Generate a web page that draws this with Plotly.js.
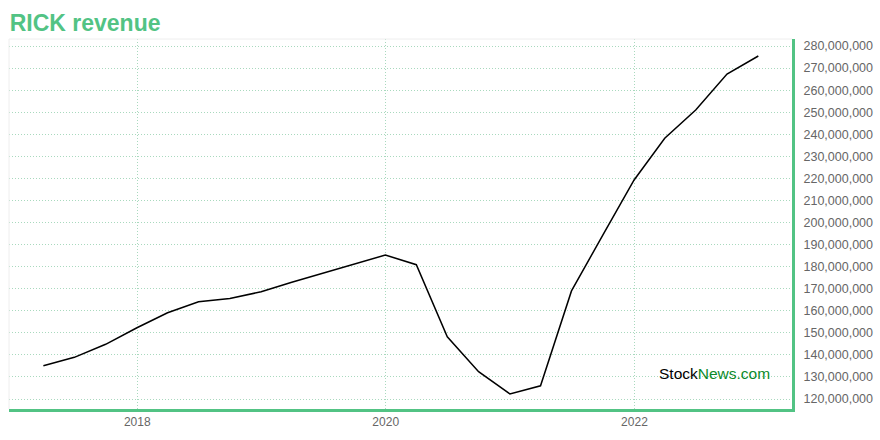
<!DOCTYPE html>
<html>
<head>
<meta charset="utf-8">
<script src="https://cdn.plot.ly/plotly-3.0.1.min.js"></script>
<style>html,body{margin:0;padding:0;background:#fff;}#chart{width:880px;height:440px;}</style>
</head>
<body>
<div id="chart"></div>
<script>
var dates = ["2017-03-31","2017-06-30","2017-09-30","2017-12-31","2018-03-31","2018-06-30","2018-09-30","2018-12-31",
             "2019-03-31","2019-06-30","2019-09-30","2019-12-31","2020-03-31","2020-06-30","2020-09-30","2020-12-31",
             "2021-03-31","2021-06-30","2021-09-30","2021-12-31","2022-03-31","2022-06-30","2022-09-30","2022-12-31"];
var revenue = [135.1e6,138.9e6,144.8e6,152.3e6,159.1e6,164.1e6,165.6e6,168.6e6,
               172.9e6,177.0e6,180.9e6,185.3e6,180.9e6,148.2e6,132.4e6,122.3e6,
               126.0e6,169.0e6,194.3e6,219.3e6,238.2e6,251.0e6,267.3e6,275.5e6];
var yTicks = [120e6,130e6,140e6,150e6,160e6,170e6,180e6,190e6,200e6,210e6,220e6,230e6,240e6,250e6,260e6,270e6,280e6];
var xTicks = ["2018-01-01","2020-01-01","2022-01-01"];
var xTickLabels = ["2018","2020","2022"];

var green = "#52c384";
var gridColor = "#a9d9be";

Plotly.newPlot("chart", [{
  x: dates, y: revenue, type: "scatter", mode: "lines",
  line: {color: "#000", width: 1.5}, hoverinfo: "skip"
}], {
  width: 880, height: 440,
  margin: {l: 9, r: 88, t: 39, b: 31},
  paper_bgcolor: "#fff", plot_bgcolor: "#fff",
  showlegend: false,
  font: {family: "Liberation Sans, Arial, sans-serif", color: "#666", size: 12},
  title: {text: "<b>RICK revenue</b>", x: 0.011, xanchor: "left", y: 0.93, yanchor: "bottom",
          font: {size: 23, color: green, family: "Liberation Sans, Arial, sans-serif"}},
  xaxis: {
    type: "date", range: ["2016-12-20", "2023-04-09"],
    tickvals: xTicks, ticktext: xTickLabels, ticks: "",
    showgrid: true, gridcolor: gridColor, griddash: "1px,2px", gridwidth: 1,
    showline: true, linecolor: green, linewidth: 3, zeroline: false,
    tickfont: {size: 12, color: "#666"}
  },
  yaxis: {
    side: "right", range: [115.47e6, 283.2e6],
    tickvals: yTicks, tickformat: ",d", ticks: "outside", ticklen: 6, tickcolor: "rgba(0,0,0,0)",
    showgrid: true, gridcolor: gridColor, griddash: "1px,2px", gridwidth: 1,
    showline: true, linecolor: green, linewidth: 3, zeroline: false,
    tickfont: {size: 12.5, color: "#666"}
  },
  shapes: [
    {type: "line", xref: "paper", yref: "paper", x0: 0, x1: 1, y0: 1, y1: 1, line: {color: "#eeeeee", width: 1}},
    {type: "line", xref: "paper", yref: "paper", x0: 0, x1: 0, y0: 0, y1: 1, line: {color: "#eeeeee", width: 1}}
  ],
  annotations: [{
    xref: "paper", yref: "paper", x: 0.901, y: 0.095, xanchor: "center", yanchor: "middle",
    showarrow: false,
    text: "<span style='color:#000'>Stock</span><span style='color:#0a8a2a'>News.com</span>",
    font: {size: 15.5, family: "Liberation Sans, Arial, sans-serif"}
  }]
}, {displayModeBar: false, staticPlot: true});
</script>
</body>
</html>
